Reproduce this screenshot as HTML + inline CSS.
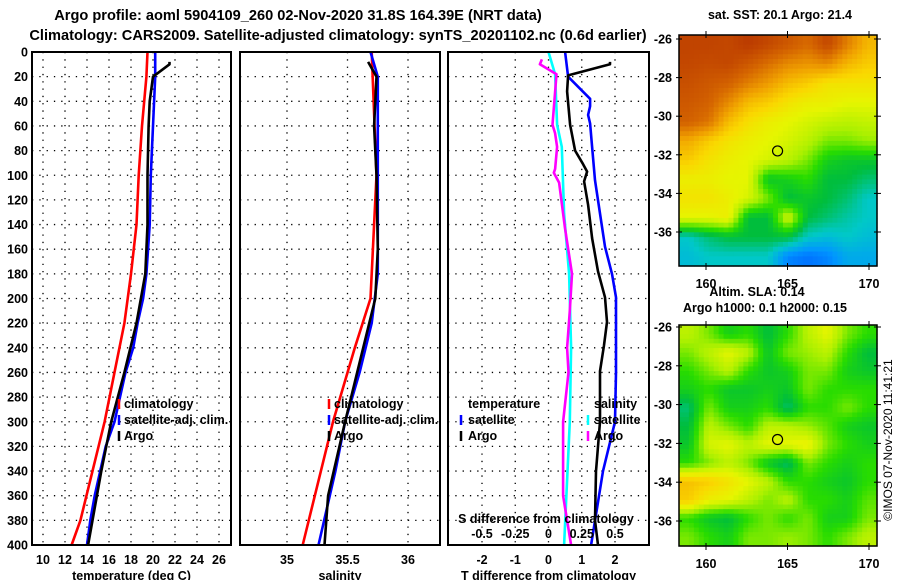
<!DOCTYPE html>
<html><head><meta charset="utf-8"><style>
html,body{margin:0;padding:0;background:#fff;}
svg{display:block;font-family:"Liberation Sans",Arial,sans-serif;font-weight:bold;}
</style></head><body>
<svg id="fig" width="900" height="580" viewBox="0 0 900 580" xmlns="http://www.w3.org/2000/svg">
<rect width="900" height="580" fill="#fff"/>
<text x="298" y="20" font-size="14.6" text-anchor="middle">Argo profile: aoml 5904109_260 02-Nov-2020 31.8S 164.39E (NRT data)</text>
<text x="338" y="40" font-size="14.6" text-anchor="middle">Climatology: CARS2009. Satellite-adjusted climatology: synTS_20201102.nc (0.6d earlier)</text>
<g id="plots"></g>
<g id="maps"></g>
<text transform="translate(892,440) rotate(-90)" font-size="12" font-weight="normal" text-anchor="middle">©IMOS 07-Nov-2020 11:41:21</text>
</svg>
<script>
// ---- data ----
const tempClimDepth = [0,20,60,100,140,180,220,260,300,340,380,400];
const tempClim = [19.5,19.4,19.0,18.7,18.5,18.0,17.4,16.5,15.6,14.5,13.4,12.6];
const tempSatDepth = [0,20,40,60,100,140,180,200,220,240,260,280,300,320,340,360,380,400];
const tempSat = [20.2,20.2,20.1,20.0,19.8,19.7,19.4,19.1,18.6,18.2,17.5,17.0,16.5,15.7,15.2,14.7,14.3,14.0];
const tempArgoDepth = [8,10,20,40,60,100,140,180,220,260,300,340,380,400];
const tempArgo = [21.5,21.5,20.0,19.7,19.6,19.5,19.5,19.3,18.5,17.4,16.2,15.3,14.5,14.1];
const salClimDepth = [0,100,200,240,300,400];
const salClim = [35.70,35.74,35.69,35.56,35.38,35.13];
const salSatDepth = [0,20,100,180,220,260,300,340,400];
const salSat = [35.69,35.75,35.75,35.75,35.70,35.60,35.48,35.40,35.26];
const salArgoDepth = [8,20,60,100,160,200,240,300,360,400];
const salArgo = [35.67,35.74,35.72,35.74,35.75,35.73,35.63,35.48,35.34,35.31];
const dTSatDepth = [0,20,38,44,51,58,77,104,131,158,180,199,240,260,300,340,400];
const dTSat = [0.5,0.59,1.25,1.25,1.19,1.25,1.31,1.40,1.55,1.70,1.91,2.03,2.03,2.03,2.0,1.64,1.28];
const dTArgoDepth = [8,10,19,32,59,80,91,97,105,124,151,178,199,219,238,259,300,340,380,400];
const dTArgo = [1.85,1.85,0.59,0.56,0.65,0.80,1.04,1.16,1.07,1.19,1.31,1.49,1.70,1.76,1.67,1.55,1.55,1.43,1.40,1.49];
const dSSatDepth = [0,18,59,77,131,180,240,300,400];
const dSSat = [0,0.05,0.065,0.1,0.117,0.155,0.17,0.16,0.117];
const dSArgoDepth = [6,10,18,59,66,77,95,98,106,143,180,210,240,260,300,360,400];
const dSArgo = [-0.05,-0.065,0.06,0.03,0.05,0.065,0.05,0.04,0.08,0.124,0.177,0.16,0.14,0.15,0.11,0.11,0.17];
const depthTicks = [0,20,40,60,80,100,120,140,160,180,200,220,240,260,280,300,320,340,360,380,400];
const tTicks = [10,12,14,16,18,20,22,24,26];
const sTicks = [35,35.5,36];
const dTTicks = [-2,-1,0,1,2];
const dSTicks = [-0.5,-0.25,0,0.25,0.5];
const dSTickLabels = ["-0.5","-0.25","0","0.25","0.5"];
const sstGrid = [
[0.97,0.97,0.96,0.99,0.96,0.92,0.88,0.96,0.84,0.74],
[0.96,0.95,0.96,0.92,0.87,0.82,0.8,0.82,0.74,0.7],
[0.94,0.92,0.9,0.84,0.79,0.73,0.7,0.65,0.65,0.65],
[0.92,0.9,0.82,0.73,0.7,0.65,0.62,0.62,0.6,0.6],
[0.9,0.86,0.73,0.66,0.62,0.6,0.58,0.56,0.55,0.56],
[0.76,0.7,0.65,0.62,0.6,0.58,0.55,0.5,0.5,0.52],
[0.7,0.65,0.62,0.6,0.58,0.55,0.5,0.42,0.4,0.4],
[0.62,0.62,0.6,0.6,0.4,0.42,0.45,0.38,0.38,0.35],
[0.65,0.65,0.62,0.58,0.5,0.38,0.4,0.38,0.35,0.3],
[0.6,0.6,0.62,0.38,0.38,0.58,0.38,0.35,0.32,0.3],
[0.3,0.35,0.38,0.38,0.38,0.38,0.3,0.28,0.3,0.28],
[0.28,0.3,0.3,0.3,0.3,0.2,0.18,0.2,0.25,0.25]];
const slaGrid = [
[0.55,0.5,0.42,0.45,0.38,0.45,0.55,0.6,0.5,0.45],
[0.5,0.55,0.6,0.55,0.4,0.5,0.52,0.55,0.45,0.38],
[0.45,0.5,0.55,0.45,0.4,0.42,0.5,0.5,0.42,0.4],
[0.42,0.45,0.4,0.4,0.42,0.4,0.5,0.45,0.45,0.45],
[0.35,0.5,0.42,0.42,0.45,0.35,0.45,0.45,0.5,0.45],
[0.38,0.55,0.5,0.45,0.55,0.55,0.52,0.48,0.42,0.4],
[0.4,0.58,0.6,0.55,0.6,0.6,0.62,0.5,0.45,0.42],
[0.45,0.5,0.55,0.5,0.4,0.35,0.5,0.45,0.42,0.45],
[0.72,0.7,0.65,0.6,0.55,0.45,0.45,0.42,0.4,0.45],
[0.7,0.62,0.6,0.55,0.5,0.55,0.45,0.45,0.42,0.48],
[0.45,0.4,0.38,0.45,0.5,0.45,0.5,0.42,0.42,0.5],
[0.5,0.45,0.42,0.5,0.5,0.52,0.5,0.45,0.5,0.55]];
const latTicks = [-26,-28,-30,-32,-34,-36];
const lonTicks = [160,165,170];
const argoLon = 164.39, argoLat = -31.8;

// ---- helpers ----
const NS="http://www.w3.org/2000/svg";
function mk(tag, attrs, parent){const e=document.createElementNS(NS,tag);for(const k in attrs)e.setAttribute(k,attrs[k]);parent.appendChild(e);return e;}
const plots=document.getElementById('plots');
const mapsG=document.getElementById('maps');
const yTop=52, yBot=545;
const yD = d => yTop + d*(yBot-yTop)/400;

function panel(name, x0, x1, xs, ticks, labels, xlabel, series){
  const g=mk('g',{},plots);
  
  
  depthTicks.forEach(d=>{ if(d>0&&d<400){const l=mk('line',{x1:x0,x2:x1,y1:yD(d),y2:yD(d),stroke:'#000','stroke-width':1.3,'stroke-dasharray':'1.3 6'},g);
     }});
  ticks.forEach(t=>{const x=xs(t);const l=mk('line',{x1:x,x2:x,y1:yTop,y2:yBot,stroke:'#000','stroke-width':1.3,'stroke-dasharray':'1.3 6'},g);
     });
  series.forEach(s=>{
    const pts=s.d.map((d,i)=>xs(s.v[i]).toFixed(1)+','+yD(d).toFixed(1)).join(' ');
    const p=mk('polyline',{points:pts,fill:'none',stroke:s.c,'stroke-width':2.6,'stroke-linejoin':'round'},g);
    
    
  });
  const fr=mk('rect',{x:x0,y:yTop,width:x1-x0,height:yBot-yTop,fill:'none',stroke:'#000','stroke-width':2},g);
   
  if(labels){ticks.forEach((t,i)=>{const tx=mk('text',{x:xs(t),y:564,'font-size':12.5,'text-anchor':'middle'},g);tx.textContent=labels[i];
     });}
  const xl=mk('text',{x:(x0+x1)/2,y:580,'font-size':12.5,'text-anchor':'middle'},g);xl.textContent=xlabel;
   
  return g;
}
const xT = t => 43 + (t-10)*11;
const xS = s => 287 + (s-35)*121;
const xdT = t => 548.5 + t*33.25;
const xdS = s => 548.5 + s*133;

depthTicks.forEach(d=>{const t=mk('text',{x:28,y:yD(d)+4.5,'font-size':12.5,'text-anchor':'end'},plots);t.textContent=d;
   });

const g1=panel('temperature-panel',32,231,xT,tTicks,tTicks.map(String),'temperature (deg C)',[
 {d:tempClimDepth,v:tempClim,c:'#f00',n:'temp-climatology-line'},
 {d:tempSatDepth,v:tempSat,c:'#00f',n:'temp-satellite-line'},
 {d:tempArgoDepth,v:tempArgo,c:'#000',n:'temp-argo-line'}]);
const g2=panel('salinity-panel',240,440,xS,sTicks,["35","35.5","36"],'salinity',[
 {d:salClimDepth,v:salClim,c:'#f00',n:'sal-climatology-line'},
 {d:salSatDepth,v:salSat,c:'#00f',n:'sal-satellite-line'},
 {d:salArgoDepth,v:salArgo,c:'#000',n:'sal-argo-line'}]);
const g3=panel('difference-panel',448,649,xdT,dTTicks,dTTicks.map(String),'T difference from climatology',[
 {d:dSSatDepth,v:dSSat.map(s=>s*4),c:'#0ff',n:'s-diff-satellite-line'},
 {d:dSArgoDepth,v:dSArgo.map(s=>s*4),c:'#f0f',n:'s-diff-argo-line'},
 {d:dTSatDepth,v:dTSat,c:'#00f',n:'t-diff-satellite-line'},
 {d:dTArgoDepth,v:dTArgo,c:'#000',n:'t-diff-argo-line'}]);
dSTicks.forEach((s,i)=>{const t=mk('text',{x:xdS(s),y:538,'font-size':12.5,'text-anchor':'middle'},g3);t.textContent=dSTickLabels[i];
   });
const st=mk('text',{x:546,y:523,'font-size':12.5,'text-anchor':'middle'},g3);st.textContent='S difference from climatology';
 

function legend(g,x,y,c,label,tx){
  const l=mk('line',{x1:x,x2:x,y1:y-9,y2:y+1,stroke:c,'stroke-width':2.5},g);
   
  const t=mk('text',{x:tx!==undefined?tx:x+5,y:y,'font-size':12.5},g);t.textContent=label;
   
}
legend(g1,119,408,'#f00','climatology');
legend(g1,119,424,'#00f','satellite-adj. clim.');
legend(g1,119,440,'#000','Argo');
legend(g2,329,408,'#f00','climatology',334);
legend(g2,329,424,'#00f','satellite-adj. clim.',334);
legend(g2,329,440,'#000','Argo',334);
const lt=mk('text',{x:468,y:408,'font-size':12.5},g3);lt.textContent='temperature';
 
const ls=mk('text',{x:594,y:408,'font-size':12.5},g3);ls.textContent='salinity';
 
legend(g3,461,424,'#00f','satellite',468);
legend(g3,461,440,'#000','Argo',468);
legend(g3,588,424,'#0ff','satellite',594);
legend(g3,588,440,'#f0f','Argo',594);

// ---- maps ----
const cstops=[[0.15,[0,90,255]],[0.22,[0,150,255]],[0.3,[0,200,200]],[0.38,[0,190,60]],[0.45,[40,220,0]],[0.53,[170,240,0]],[0.6,[230,245,0]],[0.68,[250,215,0]],[0.78,[240,160,0]],[0.88,[215,105,0]],[1,[185,55,0]]];
function cmap(v){for(let i=1;i<cstops.length;i++){if(v<=cstops[i][0]){const a=cstops[i-1],b=cstops[i];const f=Math.max(0,(v-a[0])/(b[0]-a[0]));
  return 'rgb('+a[1].map((c,k)=>Math.round(c+(b[1][k]-c)*f)).join(',')+')';}}return 'rgb(185,55,0)';}
function sample(grid,fr,fc){
  const R=grid.length-1,C=grid[0].length-1;
  const r=Math.min(Math.max(fr,0),R), c=Math.min(Math.max(fc,0),C);
  const r0=Math.floor(r), c0=Math.floor(c), r1=Math.min(r0+1,R), c1=Math.min(c0+1,C);
  const a=r-r0, b=c-c0;
  return grid[r0][c0]*(1-a)*(1-b)+grid[r0][c1]*(1-a)*b+grid[r1][c0]*a*(1-b)+grid[r1][c1]*a*b;
}
function map(name,grid,x0,y0,x1,y1,lat26y,lat36y,titles){
  const g=mk('g',{},mapsG);
  
  
  const lonX = lon => 706 + (lon-160)*16.3;
  const latY = lat => lat26y + (-26-lat)*(lat36y-lat26y)/10;
  const rows=grid.length, cols=grid[0].length, sub=4;
  const nR=rows*sub, nC=cols*sub;
  const cw=(x1-x0)/nC, ch=(y1-y0)/nR;
  for(let r=0;r<nR;r++)for(let c=0;c<nC;c++){
    const v=sample(grid,(r+0.5)/sub-0.5,(c+0.5)/sub-0.5);
    const cell=mk('rect',{x:(x0+c*cw).toFixed(2),y:(y0+r*ch).toFixed(2),width:(cw+0.6).toFixed(2),height:(ch+0.6).toFixed(2),fill:cmap(v)},g);
    
    
  }
  const fr=mk('rect',{x:x0,y:y0,width:x1-x0,height:y1-y0,fill:'none',stroke:'#000','stroke-width':1.5},g);
   
  latTicks.forEach(lat=>{const y=latY(lat);
    mk('line',{x1:x0-3,x2:x0+3,y1:y,y2:y,stroke:'#000'},g);mk('line',{x1:x1-3,x2:x1+4,y1:y,y2:y,stroke:'#000'},g);
    const t=mk('text',{x:x0-7,y:y+4.5,'font-size':12.5,'text-anchor':'end'},g);t.textContent=lat;
     });
  lonTicks.forEach(lon=>{const x=lonX(lon);
    mk('line',{x1:x,x2:x,y1:y0-4,y2:y0+3,stroke:'#000'},g);mk('line',{x1:x,x2:x,y1:y1-3,y2:y1+4,stroke:'#000'},g);
    const t=mk('text',{x:x,y:y1+22,'font-size':12.5,'text-anchor':'middle'},g);t.textContent=lon;
     });
  const m=mk('circle',{cx:lonX(argoLon),cy:latY(argoLat),r:5,fill:'none',stroke:'#000','stroke-width':1.2},g);
   
  titles.forEach(tt=>{const t=mk('text',{x:tt[0],y:tt[1],'font-size':12.5,'text-anchor':'middle'},g);t.textContent=tt[2];
     });
}
map('sst-map',sstGrid,679,35,877,266,39,232,[[780,19,'sat. SST: 20.1 Argo: 21.4']]);
map('sla-map',slaGrid,679,325,877,546,327,521,[[757,296,'Altim. SLA: 0.14'],[765,312,'Argo h1000: 0.1 h2000: 0.15']]);
</script>
</body></html>
